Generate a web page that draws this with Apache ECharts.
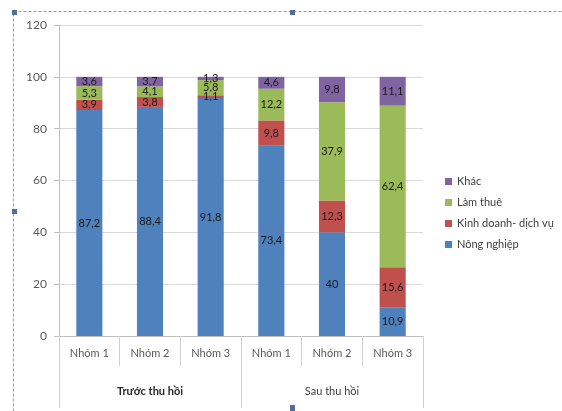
<!DOCTYPE html>
<html>
<head>
<meta charset="utf-8">
<script src="https://cdn.jsdelivr.net/npm/echarts@6/dist/echarts.min.js"></script>
<style>
    html, body { margin: 0; padding: 0; background: #fff; }
</style>
</head>
<body>
<div id="container" style="width:562px;height:411px;"></div>
<script type="text/javascript">
    // du lieu doc tu hinh (%)
    var nhom = ['Nhóm 1', 'Nhóm 2', 'Nhóm 3', 'Nhóm 1', 'Nhóm 2', 'Nhóm 3'];
    var giaiDoan = ['Trước thu hồi', 'Sau thu hồi'];
    var nongNghiep = [87.2, 88.4, 91.8, 73.4, 40, 10.9];
    var kinhDoanh = [3.9, 3.8, 1.1, 9.8, 12.3, 15.6];
    var lamThue = [5.3, 4.1, 5.8, 12.2, 37.9, 62.4];
    var khac = [3.6, 3.7, 1.3, 4.6, 9.8, 11.1];
    var yTicks = [0, 20, 40, 60, 80, 100, 120];

    var font = 'Lato, "Liberation Sans", sans-serif';

    function makeSeries(name, data, color) {
        return {
            name: name,
            type: 'bar',
            stack: 'tong',
            xAxisIndex: 0,
            data: data,
            barWidth: '43%',
            itemStyle: { color: color },
            label: {
                show: true,
                position: 'inside',
                color: '#1a1a1a',
                fontSize: 11,
                fontFamily: font,
                formatter: function (p) {
                    return String(p.value).replace('.', ',');
                }
            }
        };
    }

    var dom = document.getElementById("container");
    var myChart = echarts.init(dom);
    var option = {
        animation: false,
        textStyle: { fontFamily: font },
        grid: { left: 59, top: 25, right: 139, bottom: 75, containLabel: false },
        legend: {
            orient: 'vertical',
            left: 440,
            top: 171,
            icon: 'rect',
            itemWidth: 7,
            itemHeight: 7,
            itemGap: 10,
            data: ['Khác', 'Làm thuê', 'Kinh doanh- dịch vụ', 'Nông nghiệp'],
            textStyle: { color: '#404040', fontSize: 11, fontFamily: font }
        },
        xAxis: [{
            type: 'category',
            data: nhom,
            position: 'bottom',
            axisLine: { show: true, lineStyle: { color: '#bfbfbf' } },
            axisTick: { show: true, interval: 0, alignWithLabel: false, length: 30, lineStyle: { color: '#d0d0d0' } },
            axisLabel: { color: '#595959', fontSize: 11, margin: 12, interval: 0 }
        }, {
            type: 'category',
            data: giaiDoan,
            position: 'bottom',
            offset: 30,
            axisLine: { show: false },
            axisTick: { show: true, interval: 0, alignWithLabel: false, length: 42, lineStyle: { color: '#d0d0d0' } },
            axisLabel: {
                fontSize: 11,
                margin: 20,
                interval: 0,
                formatter: function (v, i) {
                    return i === 0 ? '{b|' + v + '}' : '{n|' + v + '}';
                },
                rich: {
                    b: { color: '#262626', fontSize: 11, fontWeight: 'bold', fontFamily: font },
                    n: { color: '#404040', fontSize: 11, fontFamily: font }
                }
            }
        }],
        yAxis: {
            type: 'value',
            min: yTicks[0],
            max: yTicks[yTicks.length - 1],
            interval: 20,
            axisLine: { show: true, lineStyle: { color: '#bfbfbf' } },
            axisTick: { show: true, length: 5, lineStyle: { color: '#bfbfbf' } },
            axisLabel: { color: '#595959', fontSize: 12, margin: 12 },
            splitLine: { lineStyle: { color: '#d9d9d9' } }
        },
        series: [
            makeSeries('Nông nghiệp', nongNghiep, '#4f81bd'),
            makeSeries('Kinh doanh- dịch vụ', kinhDoanh, '#c0504d'),
            makeSeries('Làm thuê', lamThue, '#9bbb59'),
            makeSeries('Khác', khac, '#8064a2')
        ],
        // khung chon dang net dut
        graphic: [
            { type: 'rect', shape: { x: 13.5, y: 11.5, width: 560, height: 410 },
              style: { fill: 'none', stroke: '#7f9cc0', lineWidth: 1, lineDash: [3, 2] }, silent: true },
            { type: 'rect', shape: { x: 12, y: 10, width: 5, height: 5 }, style: { fill: '#4f6f99' } },
            { type: 'rect', shape: { x: 290, y: 10, width: 5, height: 5 }, style: { fill: '#4f6f99' } },
            { type: 'rect', shape: { x: 12, y: 209, width: 5, height: 5 }, style: { fill: '#4f6f99' } },
            { type: 'rect', shape: { x: 290, y: 405, width: 5, height: 6 }, style: { fill: '#4f6f99' } }
        ]
    };
    myChart.setOption(option);
</script>
</body>
</html>
